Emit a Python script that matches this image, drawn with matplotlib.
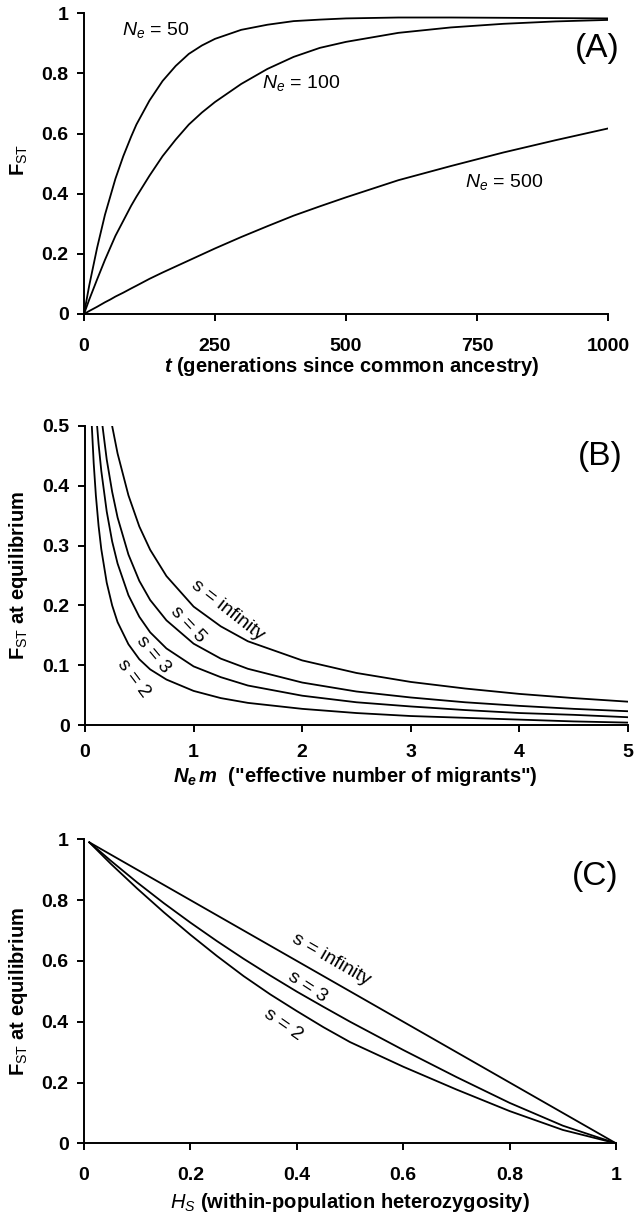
import matplotlib
matplotlib.use("Agg")
import matplotlib.pyplot as plt
from matplotlib.ticker import FuncFormatter

plt.rcParams['font.family'] = 'Liberation Sans'
plt.rcParams['mathtext.fontset'] = 'custom'
plt.rcParams['mathtext.rm'] = 'Liberation Sans'
plt.rcParams['mathtext.it'] = 'Liberation Sans:italic'
plt.rcParams['mathtext.bf'] = 'Liberation Sans:bold'
plt.rcParams['mathtext.bfit'] = 'Liberation Sans:bold:italic'

# (A) Fst vs generations since common ancestry
t = [0, 10, 25, 40, 50, 60, 75, 90, 100, 125, 150, 175, 200, 225, 250, 300, 350, 400, 450, 500, 600, 700, 800, 900, 1000]
fst_ne50 = [0, 0.095, 0.22, 0.33, 0.39, 0.45, 0.525, 0.59, 0.63, 0.71, 0.775, 0.825, 0.865, 0.893, 0.915, 0.945, 0.962, 0.974, 0.979, 0.983, 0.986, 0.986, 0.985, 0.984, 0.983]
fst_ne100 = [0, 0.048, 0.115, 0.18, 0.22, 0.26, 0.31, 0.36, 0.39, 0.46, 0.525, 0.58, 0.63, 0.67, 0.705, 0.765, 0.815, 0.855, 0.885, 0.905, 0.935, 0.953, 0.965, 0.973, 0.978]
fst_ne500 = [0, 0.01, 0.024, 0.039, 0.048, 0.058, 0.071, 0.085, 0.094, 0.117, 0.138, 0.158, 0.178, 0.198, 0.218, 0.256, 0.292, 0.327, 0.358, 0.388, 0.445, 0.492, 0.537, 0.578, 0.617]

# (B) Fst at equilibrium vs Nm
nm = [0.05, 0.06, 0.08, 0.1, 0.125, 0.15, 0.2, 0.25, 0.3, 0.4, 0.5, 0.6, 0.75, 1, 1.25, 1.5, 2, 2.5, 3, 3.5, 4, 4.5, 5]
fst_sinf = [0.833, 0.806, 0.758, 0.714, 0.667, 0.625, 0.555, 0.50, 0.454, 0.384, 0.332, 0.293, 0.249, 0.198, 0.165, 0.140, 0.108, 0.087, 0.072, 0.061, 0.052, 0.045, 0.039]
fst_s5 = [0.762, 0.727, 0.667, 0.615, 0.561, 0.516, 0.444, 0.39, 0.347, 0.285, 0.241, 0.209, 0.175, 0.136, 0.111, 0.094, 0.071, 0.056, 0.046, 0.038, 0.032, 0.027, 0.023]
fst_s3 = [0.69, 0.649, 0.581, 0.526, 0.47, 0.425, 0.357, 0.307, 0.27, 0.217, 0.181, 0.155, 0.128, 0.098, 0.080, 0.066, 0.049, 0.038, 0.031, 0.025, 0.020, 0.017, 0.013]
fst_s2 = [0.556, 0.51, 0.438, 0.384, 0.333, 0.294, 0.238, 0.2, 0.172, 0.135, 0.110, 0.093, 0.076, 0.057, 0.045, 0.037, 0.027, 0.020, 0.015, 0.012, 0.009, 0.006, 0.004]

# (C) Fst at equilibrium vs Hs
hs = [0.01, 0.05, 0.1, 0.15, 0.2, 0.25, 0.3, 0.35, 0.4, 0.45, 0.5, 0.6, 0.7, 0.8, 0.9, 1.0]
fstc_sinf = [0.99, 0.95, 0.90, 0.85, 0.80, 0.75, 0.70, 0.65, 0.60, 0.55, 0.50, 0.40, 0.30, 0.20, 0.10, 0.0]
fstc_s3 = [0.99, 0.93, 0.858, 0.79, 0.726, 0.665, 0.607, 0.552, 0.499, 0.449, 0.40, 0.307, 0.218, 0.133, 0.058, 0.0]
fstc_s2 = [0.99, 0.92, 0.838, 0.76, 0.686, 0.616, 0.55, 0.49, 0.435, 0.382, 0.333, 0.252, 0.177, 0.106, 0.044, 0.0]

W, H = 634, 1216
fig = plt.figure(figsize=(W / 100, H / 100), dpi=100)


def pix_axes(x0, y0, x1, y1):
    # axes box from pixel corners (left, bottom) -> (right, top)
    return fig.add_axes([x0 / W, 1 - y0 / H, (x1 - x0) / W, (y0 - y1) / H])


def fmt(v, pos):
    return ('%.1f' % v).rstrip('0').rstrip('.') if v != 0 else '0'


def style(ax, xpad):
    for s in ['top', 'right']:
        ax.spines[s].set_visible(False)
    for s in ['left', 'bottom']:
        ax.spines[s].set_linewidth(1.4)
    ax.tick_params(direction='out', length=5, width=1.4, labelsize=14)
    ax.tick_params(axis='y', pad=6)
    ax.tick_params(axis='x', pad=xpad)
    for lab in ax.get_xticklabels() + ax.get_yticklabels():
        lab.set_fontweight('bold')


lw = 1.3
fs_lab = 14.5
fs_txt = 14

# ----- panel A
axA = pix_axes(84, 314, 608, 13.3)
axA.plot(t, fst_ne50, color='black', lw=lw)
axA.plot(t, fst_ne100, color='black', lw=lw)
axA.plot(t, fst_ne500, color='black', lw=lw)
axA.set_xlim(0, 1000)
axA.set_ylim(0, 1)
axA.set_xticks([0, 250, 500, 750, 1000])
axA.set_yticks([0, 0.2, 0.4, 0.6, 0.8, 1])
axA.yaxis.set_major_formatter(FuncFormatter(fmt))
style(axA, 12)
axA.text(72, 0.944, r'$\mathit{N_e}$ = 50', fontsize=fs_txt, va='center')
axA.text(340, 0.768, r'$\mathit{N_e}$ = 100', fontsize=fs_txt, va='center')
axA.text(727, 0.44, r'$\mathit{N_e}$ = 500', fontsize=fs_txt, va='center')
fig.text(597 / W, 1 - 49 / H, '(A)', fontsize=24, ha='center', va='center')
fig.text(352 / W, 1 - 366 / H, r'$\mathbfit{t}$ (generations since common ancestry)',
         fontsize=fs_lab, fontweight='bold', ha='center', va='center')
fig.text(19 / W, 1 - 160 / H, r'F$_{\mathrm{ST}}$', fontsize=fs_lab, fontweight='bold',
         rotation=90, ha='center', va='center')

# ----- panel B
axB = pix_axes(85, 725, 628, 426)
for ys in [fst_sinf, fst_s5, fst_s3, fst_s2]:
    axB.plot(nm, ys, color='black', lw=lw)
axB.set_xlim(0, 5)
axB.set_ylim(0, 0.5)
axB.set_xticks([0, 1, 2, 3, 4, 5])
axB.set_yticks([0, 0.1, 0.2, 0.3, 0.4, 0.5])
axB.yaxis.set_major_formatter(FuncFormatter(fmt))
style(axB, 9)
axB.text(1.31, 0.192, 's = infinity', fontsize=fs_txt, rotation=-38, ha='center', va='center')
axB.text(0.95, 0.168, 's = 5', fontsize=fs_txt, rotation=-47, ha='center', va='center')
axB.text(0.63, 0.118, 's = 3', fontsize=fs_txt, rotation=-50, ha='center', va='center')
axB.text(0.45, 0.078, 's = 2', fontsize=fs_txt, rotation=-53, ha='center', va='center')
fig.text(600 / W, 1 - 456 / H, '(B)', fontsize=24, ha='center', va='center')
fig.text(355 / W, 1 - 777 / H, r'$\mathbfit{N_e\,m}$  ("effective number of migrants")',
         fontsize=fs_lab, fontweight='bold', ha='center', va='center')
fig.text(19 / W, 1 - 575 / H, r'F$_{\mathrm{ST}}$ at equilibrium', fontsize=fs_lab,
         fontweight='bold', rotation=90, ha='center', va='center')

# ----- panel C
axC = pix_axes(84, 1143.3, 616, 839.3)
for ys in [fstc_sinf, fstc_s3, fstc_s2]:
    axC.plot(hs, ys, color='black', lw=lw)
axC.set_xlim(0, 1)
axC.set_ylim(0, 1)
axC.set_xticks([0, 0.2, 0.4, 0.6, 0.8, 1])
axC.set_yticks([0, 0.2, 0.4, 0.6, 0.8, 1])
axC.xaxis.set_major_formatter(FuncFormatter(fmt))
axC.yaxis.set_major_formatter(FuncFormatter(fmt))
style(axC, 12)
axC.text(0.465, 0.605, 's = infinity', fontsize=fs_txt, rotation=-30, ha='center', va='center')
axC.text(0.42, 0.516, 's = 3', fontsize=fs_txt, rotation=-33, ha='center', va='center')
axC.text(0.374, 0.39, 's = 2', fontsize=fs_txt, rotation=-35, ha='center', va='center')
fig.text(595 / W, 1 - 877 / H, '(C)', fontsize=24, ha='center', va='center')
fig.text(350 / W, 1 - 1202 / H, r'$\mathit{H_S}$ (within-population heterozygosity)',
         fontsize=fs_lab, fontweight='bold', ha='center', va='center')
fig.text(19 / W, 1 - 991 / H, r'F$_{\mathrm{ST}}$ at equilibrium', fontsize=fs_lab,
         fontweight='bold', rotation=90, ha='center', va='center')

fig.savefig('out.png', dpi=100)
